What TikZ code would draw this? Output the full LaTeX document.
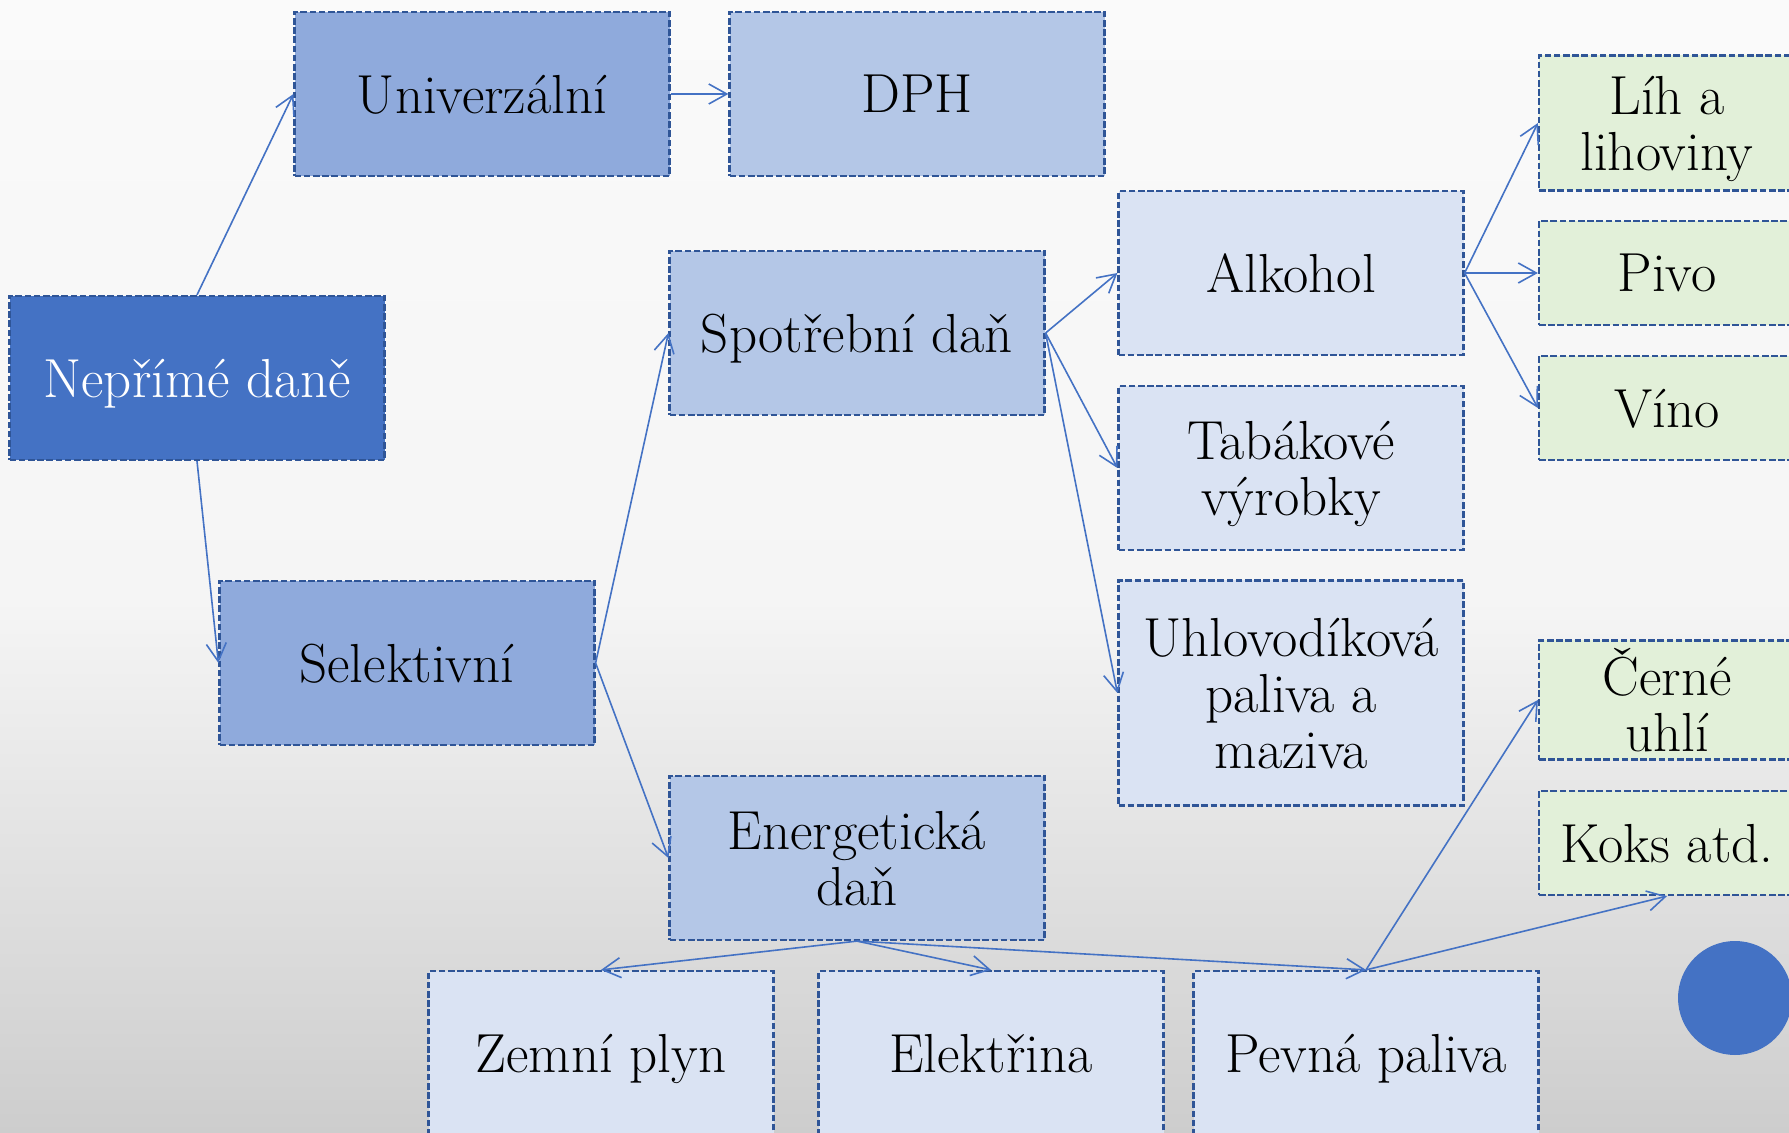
\documentclass[tikz,border=0pt]{standalone}
\usepackage{fontspec}
\usetikzlibrary{arrows.meta}
\definecolor{dark}{HTML}{4472C4}
\definecolor{edge}{HTML}{2F5597}
\definecolor{mid}{HTML}{8FAADC}
\definecolor{light}{HTML}{B4C7E7}
\definecolor{pale}{HTML}{DAE3F3}
\definecolor{leafc}{HTML}{E2F0D9}
\definecolor{bgtop}{RGB}{250,250,250}
\definecolor{bgmid}{RGB}{245,245,245}
\definecolor{bgbot}{RGB}{205,205,205}
\begin{document}
\begin{tikzpicture}[x=0.5pt, y=-0.5pt,
		font=\fontsize{27.5}{28}\selectfont,
		box/.style={draw=edge, line width=1.1pt, dash pattern=on 3.3pt off 1.3pt,
			inner sep=0pt, align=center, text depth=0pt,
			minimum width=187.5pt, minimum height=82pt},
		tier0/.style={box, fill=dark, text=white},
		tier1/.style={box, fill=mid},
		tier2/.style={box, fill=light},
		tier3/.style={box, fill=pale, minimum width=172.5pt},
		leaf/.style={box, fill=leafc, minimum width=128pt, minimum height=52pt},
		link/.style={draw=dark, line width=0.8pt, -{Straight Barb[length=9pt,width=10pt]}}
		]
	\useasboundingbox (0,0) rectangle (1789,1133);
	\clip (0,0) rectangle (1789,1133);
	\shade [top color=bgtop, bottom color=bgmid] (0,0) rectangle (1789,600);
	\shade [top color=bgmid, bottom color=bgbot] (0,600) rectangle (1789,1133);

	\node [tier0] (nep) at (197,378) {Nepřímé daně};
	\node [tier1] (uni) at (482,94) {Univerzální};
	\node [tier2] (dph) at (917,94) {DPH};
	\node [tier1] (sel) at (407,663) {Selektivní};
	\node [tier2] (spo) at (857,333) {Spotřební daň};
	\node [tier2] (ene) at (857,858) {Energetická\\daň};
	\node [tier3] (alk) at (1291,273) {Alkohol};
	\node [tier3] (tab) at (1291,468) {Tabákové\\výrobky};
	\node [tier3, minimum height=112.5pt] (uhl) at (1291,693) {Uhlovodíková\\paliva a\\maziva};
	\node [leaf, minimum height=67.5pt] (lih) at (1667,123) {Líh a\\lihoviny};
	\node [leaf] (piv) at (1667,273) {Pivo};
	\node [leaf] (vin) at (1667,408) {Víno};
	\node [leaf, minimum height=59.5pt] (cer) at (1667,700) {Černé\\uhlí};
	\node [leaf] (kok) at (1667,843) {Koks atd.};
	\node [tier3] (zem) at (601,1053) {Zemní plyn};
	\node [tier3] (ele) at (991,1053) {Elektřina};
	\node [tier3] (pev) at (1366,1053) {Pevná paliva};
	\fill [dark] (1735,998) circle (28.5pt);

	\draw [link] (nep.north) -- (uni.west);
	\draw [link] (nep.south) -- (sel.west);
	\draw [link] (uni.east) -- (dph.west);
	\draw [link] (sel.east) -- (spo.west);
	\draw [link] (sel.east) -- (ene.west);
	\foreach \t in {alk,tab,uhl} \draw [link] (spo.east) -- (\t.west);
	\foreach \t in {lih,piv,vin} \draw [link] (alk.east) -- (\t.west);
	\foreach \t in {zem,ele,pev} \draw [link] (ene.south) -- (\t.north);
	\draw [link] (pev.north) -- (cer.west);
	\draw [link] (pev.north) -- (kok.south);
\end{tikzpicture}
\end{document}
